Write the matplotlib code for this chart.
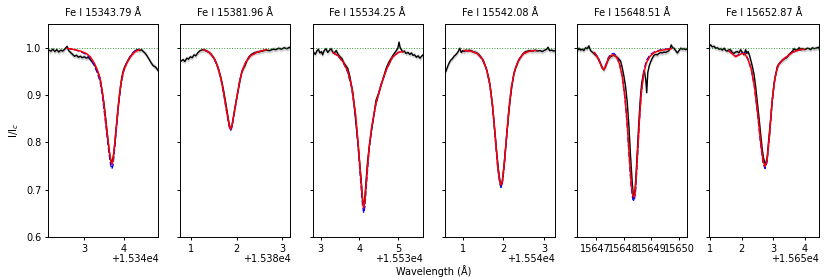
import matplotlib
matplotlib.use("Agg")
import matplotlib.pyplot as plt
from matplotlib.ticker import MultipleLocator

titles = ["Fe I 15343.79 Å", "Fe I 15381.96 Å", "Fe I 15534.25 Å",
          "Fe I 15542.08 Å", "Fe I 15648.51 Å", "Fe I 15652.87 Å"]
bases = [15340, 15380, 15530, 15540, 15600, 15650]

# ---- panel 1 ----
obs1_wl = [2.09, 2.15, 2.20, 2.25, 2.30, 2.35, 2.40, 2.45, 2.50, 2.56, 2.60, 2.65, 2.70, 2.75, 2.80,
           2.85, 2.90, 2.95, 3.00, 3.05, 3.10, 3.15, 3.20, 3.25, 3.30, 3.35, 3.40, 3.45, 3.50, 3.55,
           3.60, 3.65, 3.70, 3.75, 3.80, 3.85, 3.90, 3.95, 4.00, 4.05, 4.10, 4.15, 4.20, 4.25, 4.30,
           4.35, 4.40, 4.45, 4.50, 4.55, 4.60, 4.65, 4.70, 4.75, 4.80, 4.85, 4.89]
obs1_fl = [0.995, 0.993, 0.997, 0.992, 0.996, 0.991, 0.995, 0.993, 0.997, 1.003, 0.994, 0.990, 0.986,
           0.982, 0.984, 0.980, 0.982, 0.979, 0.981, 0.978, 0.980, 0.975, 0.970, 0.965, 0.957, 0.947,
           0.935, 0.910, 0.882, 0.845, 0.805, 0.770, 0.755, 0.778, 0.820, 0.865, 0.905, 0.937, 0.955,
           0.964, 0.972, 0.979, 0.985, 0.990, 0.994, 0.996, 0.994, 0.996, 0.992, 0.988, 0.982, 0.975,
           0.968, 0.962, 0.960, 0.955, 0.950]
fit1_wl = [2.56, 2.75, 2.90, 3.05, 3.15, 3.25, 3.33, 3.40, 3.46, 3.52, 3.58, 3.63, 3.67, 3.70, 3.73,
           3.77, 3.82, 3.87, 3.93, 4.00, 4.08, 4.18, 4.28, 4.40]
fit1_fl = [0.999, 0.996, 0.993, 0.988, 0.981, 0.968, 0.953, 0.935, 0.905, 0.862, 0.820, 0.785, 0.762,
           0.754, 0.762, 0.795, 0.840, 0.884, 0.925, 0.952, 0.968, 0.982, 0.991, 0.996]
alt1_fl = [0.999, 0.996, 0.992, 0.986, 0.978, 0.963, 0.947, 0.929, 0.899, 0.856, 0.812, 0.775, 0.752,
           0.744, 0.752, 0.787, 0.834, 0.880, 0.922, 0.951, 0.969, 0.984, 0.993, 0.997]

# ---- panel 2 ----
obs2_wl = [0.78, 0.82, 0.86, 0.90, 0.94, 0.98, 1.02, 1.06, 1.10, 1.14, 1.18, 1.22, 1.27, 1.32, 1.38,
           1.44, 1.50, 1.55, 1.60, 1.65, 1.70, 1.75, 1.80, 1.84, 1.87, 1.90, 1.94, 1.98, 2.02, 2.06,
           2.10, 2.14, 2.18, 2.22, 2.26, 2.32, 2.40, 2.48, 2.56, 2.64, 2.72, 2.80, 2.86, 2.92, 2.98,
           3.04, 3.10, 3.16, 3.20]
obs2_fl = [0.972, 0.975, 0.971, 0.978, 0.976, 0.981, 0.979, 0.985, 0.983, 0.989, 0.993, 0.995, 0.996,
           0.994, 0.991, 0.986, 0.978, 0.968, 0.955, 0.937, 0.915, 0.888, 0.858, 0.835, 0.828, 0.838,
           0.862, 0.884, 0.905, 0.925, 0.945, 0.955, 0.962, 0.972, 0.980, 0.986, 0.990, 0.991, 0.993,
           0.995, 0.994, 0.997, 0.996, 0.999, 0.997, 1.000, 0.998, 1.001, 1.000]
fit2_wl = [1.27, 1.40, 1.50, 1.58, 1.65, 1.72, 1.78, 1.83, 1.86, 1.89, 1.94, 2.00, 2.06, 2.12, 2.20,
           2.30, 2.45, 2.65]
fit2_fl = [0.996, 0.990, 0.978, 0.960, 0.936, 0.900, 0.865, 0.838, 0.828, 0.834, 0.860, 0.895, 0.928,
           0.952, 0.970, 0.983, 0.991, 0.996]
alt2_fl = [0.996, 0.990, 0.978, 0.959, 0.935, 0.899, 0.863, 0.835, 0.825, 0.831, 0.858, 0.894, 0.928,
           0.952, 0.970, 0.983, 0.991, 0.996]

# ---- panel 3 ----
obs3_wl = [2.78, 2.82, 2.86, 2.90, 2.94, 2.98, 3.02, 3.05, 3.09, 3.14, 3.18, 3.22, 3.27, 3.31, 3.35,
           3.40, 3.45, 3.50, 3.55, 3.60, 3.65, 3.70, 3.75, 3.79, 3.83, 3.87, 3.91, 3.96, 4.00, 4.04,
           4.08, 4.11, 4.14, 4.17, 4.21, 4.26, 4.31, 4.36, 4.43, 4.50, 4.56, 4.62, 4.69, 4.76, 4.82,
           4.88, 4.95, 4.99, 5.02, 5.05, 5.08, 5.12, 5.16, 5.20, 5.25, 5.30, 5.34, 5.38, 5.42, 5.47,
           5.51, 5.56, 5.60, 5.64]
obs3_fl = [0.996, 0.990, 0.986, 0.993, 0.997, 0.989, 0.992, 0.985, 0.994, 0.998, 0.990, 0.994, 0.998,
           0.991, 0.989, 0.994, 0.986, 0.981, 0.977, 0.968, 0.962, 0.956, 0.940, 0.922, 0.905, 0.875,
           0.840, 0.800, 0.762, 0.725, 0.680, 0.663, 0.685, 0.718, 0.760, 0.795, 0.825, 0.851, 0.890,
           0.905, 0.922, 0.938, 0.957, 0.970, 0.978, 0.986, 0.994, 0.999, 1.012, 1.000, 0.996, 0.991,
           0.993, 0.988, 0.990, 0.986, 0.989, 0.984, 0.985, 0.980, 0.983, 0.978, 0.982, 0.985]
fit3_wl = [3.31, 3.45, 3.58, 3.70, 3.80, 3.90, 3.97, 4.03, 4.08, 4.11, 4.14, 4.19, 4.25, 4.32, 4.42,
           4.55, 4.70, 4.85, 5.00, 5.12]
fit3_fl = [0.990, 0.983, 0.970, 0.950, 0.918, 0.860, 0.795, 0.730, 0.680, 0.661, 0.675, 0.730, 0.790,
           0.835, 0.880, 0.920, 0.955, 0.980, 0.990, 0.992]
alt3_fl = [0.990, 0.983, 0.969, 0.948, 0.915, 0.855, 0.788, 0.720, 0.668, 0.651, 0.664, 0.722, 0.786,
           0.833, 0.879, 0.920, 0.955, 0.980, 0.990, 0.992]

# ---- panel 4 ----
obs4_wl = [0.58, 0.62, 0.66, 0.70, 0.74, 0.78, 0.82, 0.86, 0.89, 0.92, 0.96, 1.00, 1.03, 1.07, 1.11,
           1.16, 1.22, 1.27, 1.33, 1.39, 1.45, 1.51, 1.56, 1.60, 1.64, 1.68, 1.72, 1.76, 1.80, 1.84,
           1.88, 1.92, 1.95, 1.98, 2.01, 2.05, 2.09, 2.13, 2.17, 2.21, 2.25, 2.29, 2.33, 2.37, 2.41,
           2.47, 2.53, 2.60, 2.66, 2.72, 2.78, 2.84, 2.90, 2.96, 3.02, 3.07, 3.10, 3.14, 3.19, 3.24,
           3.29]
obs4_fl = [0.950, 0.960, 0.968, 0.974, 0.977, 0.982, 0.985, 0.989, 0.993, 0.999, 0.990, 0.994, 0.992,
           0.995, 0.994, 0.995, 0.993, 0.991, 0.990, 0.986, 0.980, 0.972, 0.960, 0.949, 0.935, 0.914,
           0.885, 0.851, 0.812, 0.774, 0.740, 0.715, 0.709, 0.722, 0.748, 0.785, 0.823, 0.860, 0.893,
           0.920, 0.942, 0.955, 0.964, 0.972, 0.978, 0.986, 0.991, 0.993, 0.994, 0.993, 0.995, 0.993,
           0.994, 0.992, 0.995, 0.997, 1.001, 0.994, 0.995, 0.993, 0.994]
fit4_wl = [1.03, 1.20, 1.35, 1.48, 1.58, 1.66, 1.73, 1.80, 1.86, 1.91, 1.94, 1.97, 2.02, 2.08, 2.14,
           2.20, 2.28, 2.38, 2.50, 2.65, 2.80]
fit4_fl = [0.994, 0.993, 0.988, 0.976, 0.955, 0.925, 0.880, 0.810, 0.750, 0.718, 0.710, 0.716, 0.752,
           0.815, 0.875, 0.918, 0.952, 0.975, 0.988, 0.993, 0.994]
alt4_fl = [0.994, 0.993, 0.988, 0.976, 0.955, 0.924, 0.878, 0.807, 0.746, 0.713, 0.705, 0.711, 0.749,
           0.814, 0.875, 0.918, 0.952, 0.975, 0.988, 0.993, 0.994]

# ---- panel 5 ----
obs5_wl = [46.33, 46.39, 46.45, 46.51, 46.57, 46.63, 46.69, 46.75, 46.81, 46.87, 46.93, 46.99, 47.05,
           47.11, 47.17, 47.23, 47.29, 47.35, 47.41, 47.47, 47.53, 47.59, 47.65, 47.71, 47.77, 47.83,
           47.89, 47.95, 48.01, 48.07, 48.13, 48.19, 48.25, 48.31, 48.36, 48.40, 48.45, 48.50, 48.55,
           48.60, 48.65, 48.70, 48.75, 48.80, 48.83, 48.87, 48.92, 48.97, 49.03, 49.09, 49.15, 49.21,
           49.27, 49.33, 49.39, 49.45, 49.51, 49.57, 49.63, 49.68, 49.71, 49.76, 49.81, 49.87, 49.93,
           49.99, 50.05, 50.11, 50.17, 50.23, 50.29]
obs5_fl = [0.993, 0.999, 0.995, 0.997, 0.994, 1.000, 0.998, 1.004, 0.994, 0.991, 0.988, 0.984, 0.981,
           0.975, 0.967, 0.958, 0.953, 0.960, 0.970, 0.977, 0.981, 0.983, 0.984, 0.982, 0.980, 0.976,
           0.972, 0.958, 0.940, 0.918, 0.885, 0.835, 0.770, 0.715, 0.682, 0.690, 0.735, 0.790, 0.845,
           0.892, 0.925, 0.942, 0.950, 0.930, 0.905, 0.948, 0.962, 0.970, 0.978, 0.984, 0.986, 0.985,
           0.988, 0.990, 0.989, 0.991, 0.990, 0.992, 0.994, 1.000, 1.006, 1.000, 0.999, 0.994, 0.989,
           0.994, 0.999, 0.997, 0.998, 0.996, 0.998]
fit5_wl = [46.95, 47.05, 47.15, 47.23, 47.29, 47.36, 47.45, 47.55, 47.65, 47.75, 47.85, 47.95, 48.05,
           48.13, 48.20, 48.27, 48.33, 48.38, 48.43, 48.49, 48.56, 48.63, 48.72, 48.82, 48.95, 49.10,
           49.30, 49.50, 49.72]
fit5_fl = [0.990, 0.981, 0.968, 0.957, 0.954, 0.962, 0.977, 0.984, 0.985, 0.980, 0.966, 0.940, 0.895,
           0.840, 0.775, 0.715, 0.688, 0.684, 0.705, 0.765, 0.840, 0.900, 0.945, 0.968, 0.982, 0.990,
           0.994, 0.996, 0.998]
alt5_fl = [0.990, 0.982, 0.969, 0.958, 0.955, 0.964, 0.979, 0.987, 0.988, 0.982, 0.967, 0.940, 0.893,
           0.836, 0.769, 0.708, 0.680, 0.676, 0.698, 0.760, 0.838, 0.902, 0.950, 0.973, 0.985, 0.991,
           0.995, 0.997, 0.998]

# ---- panel 6 ----
obs6_wl = [0.98, 1.01, 1.06, 1.12, 1.17, 1.22, 1.28, 1.33, 1.38, 1.44, 1.49, 1.54, 1.60, 1.65, 1.70,
           1.75, 1.80, 1.86, 1.91, 1.96, 2.02, 2.07, 2.12, 2.16, 2.20, 2.24, 2.28, 2.33, 2.39, 2.44,
           2.49, 2.55, 2.60, 2.65, 2.69, 2.75, 2.81, 2.86, 2.92, 2.97, 3.02, 3.08, 3.13, 3.19, 3.24,
           3.29, 3.34, 3.40, 3.45, 3.50, 3.55, 3.61, 3.66, 3.71, 3.77, 3.82, 3.87, 3.93, 3.98, 4.03,
           4.08, 4.14, 4.19, 4.24, 4.30, 4.35, 4.40, 4.45, 4.47]
obs6_fl = [1.004, 1.006, 1.002, 1.003, 0.999, 1.000, 0.997, 0.998, 0.995, 0.999, 0.994, 0.993, 0.996,
           0.995, 0.990, 0.988, 0.991, 0.992, 0.989, 0.996, 0.990, 0.985, 0.996, 0.988, 0.992, 0.985,
           0.975, 0.962, 0.943, 0.918, 0.887, 0.850, 0.817, 0.785, 0.767, 0.752, 0.770, 0.810, 0.851,
           0.890, 0.922, 0.945, 0.961, 0.967, 0.971, 0.973, 0.976, 0.978, 0.981, 0.986, 0.989, 0.993,
           0.998, 0.995, 0.996, 1.000, 0.997, 0.998, 0.996, 0.997, 0.999, 0.998, 0.996, 1.000, 0.998,
           0.999, 1.000, 1.001, 0.996]
fit6_wl = [1.59, 1.70, 1.80, 1.90, 2.00, 2.10, 2.20, 2.30, 2.40, 2.50, 2.60, 2.68, 2.74, 2.80, 2.88,
           2.96, 3.05, 3.15, 3.30, 3.45, 3.60, 3.80, 3.98]
fit6_fl = [0.993, 0.987, 0.981, 0.984, 0.988, 0.987, 0.975, 0.955, 0.920, 0.865, 0.800, 0.760, 0.749,
           0.762, 0.815, 0.885, 0.935, 0.962, 0.975, 0.982, 0.990, 0.995, 0.997]
alt6_fl = [0.993, 0.987, 0.982, 0.985, 0.989, 0.988, 0.976, 0.955, 0.918, 0.862, 0.796, 0.755, 0.745,
           0.758, 0.812, 0.884, 0.935, 0.962, 0.975, 0.982, 0.990, 0.995, 0.997]

obs_wl = [obs1_wl, obs2_wl, obs3_wl, obs4_wl, obs5_wl, obs6_wl]
obs_fl = [obs1_fl, obs2_fl, obs3_fl, obs4_fl, obs5_fl, obs6_fl]
fit_wl = [fit1_wl, fit2_wl, fit3_wl, fit4_wl, fit5_wl, fit6_wl]
fit_fl = [fit1_fl, fit2_fl, fit3_fl, fit4_fl, fit5_fl, fit6_fl]
alt_fl = [alt1_fl, alt2_fl, alt3_fl, alt4_fl, alt5_fl, alt6_fl]
obs_err = [0.005, 0.005, 0.005, 0.005, 0.005, 0.005]

xlims = [(15342.08, 15344.88), (15380.76, 15383.18), (15532.79, 15535.63),
         (15540.55, 15543.27), (15646.32, 15650.28), (15650.96, 15654.46)]

plt.rcParams['font.size'] = 7
fig, axes = plt.subplots(1, 6, figsize=(8.3, 2.77), dpi=100, sharey=True)
fig.subplots_adjust(left=0.058, right=0.987, top=0.913, bottom=0.144, wspace=0.2)

for i, ax in enumerate(axes):
    b = bases[i]
    ow = [b + w for w in obs_wl[i]]
    of = obs_fl[i]
    fw = [b + w for w in fit_wl[i]]
    lo = [f - obs_err[i] for f in of]
    hi = [f + obs_err[i] for f in of]
    ax.fill_between(ow, lo, hi, color='0.65', alpha=0.5, lw=0)
    ax.plot(ow, of, color='black', lw=1.0)
    ax.axhline(1.0, color='green', ls=':', lw=0.7, alpha=0.8)
    ax.plot(fw, alt_fl[i], color='blue', ls='--', lw=1.0)
    ax.plot(fw, fit_fl[i], color='red', lw=1.1)
    ax.set_title(titles[i], fontsize=7)
    ax.set_xlim(*xlims[i])
    ax.xaxis.set_major_locator(MultipleLocator(1))
    ax.xaxis.OFFSETTEXTPAD = 0.3
    ax.tick_params(labelsize=7, length=2.5, width=0.7, pad=2.3)
    for s in ax.spines.values():
        s.set_linewidth(0.7)

axes[0].set_ylim(0.6, 1.05)
axes[0].set_yticks([0.6, 0.7, 0.8, 0.9, 1.0])
axes[0].set_ylabel(r'I/I$_c$', fontsize=7.5)
fig.text((0.058 + 0.987) / 2, 0.0, 'Wavelength (Å)', ha='center', va='bottom', fontsize=7)

fig.savefig('out.png', dpi=100)
